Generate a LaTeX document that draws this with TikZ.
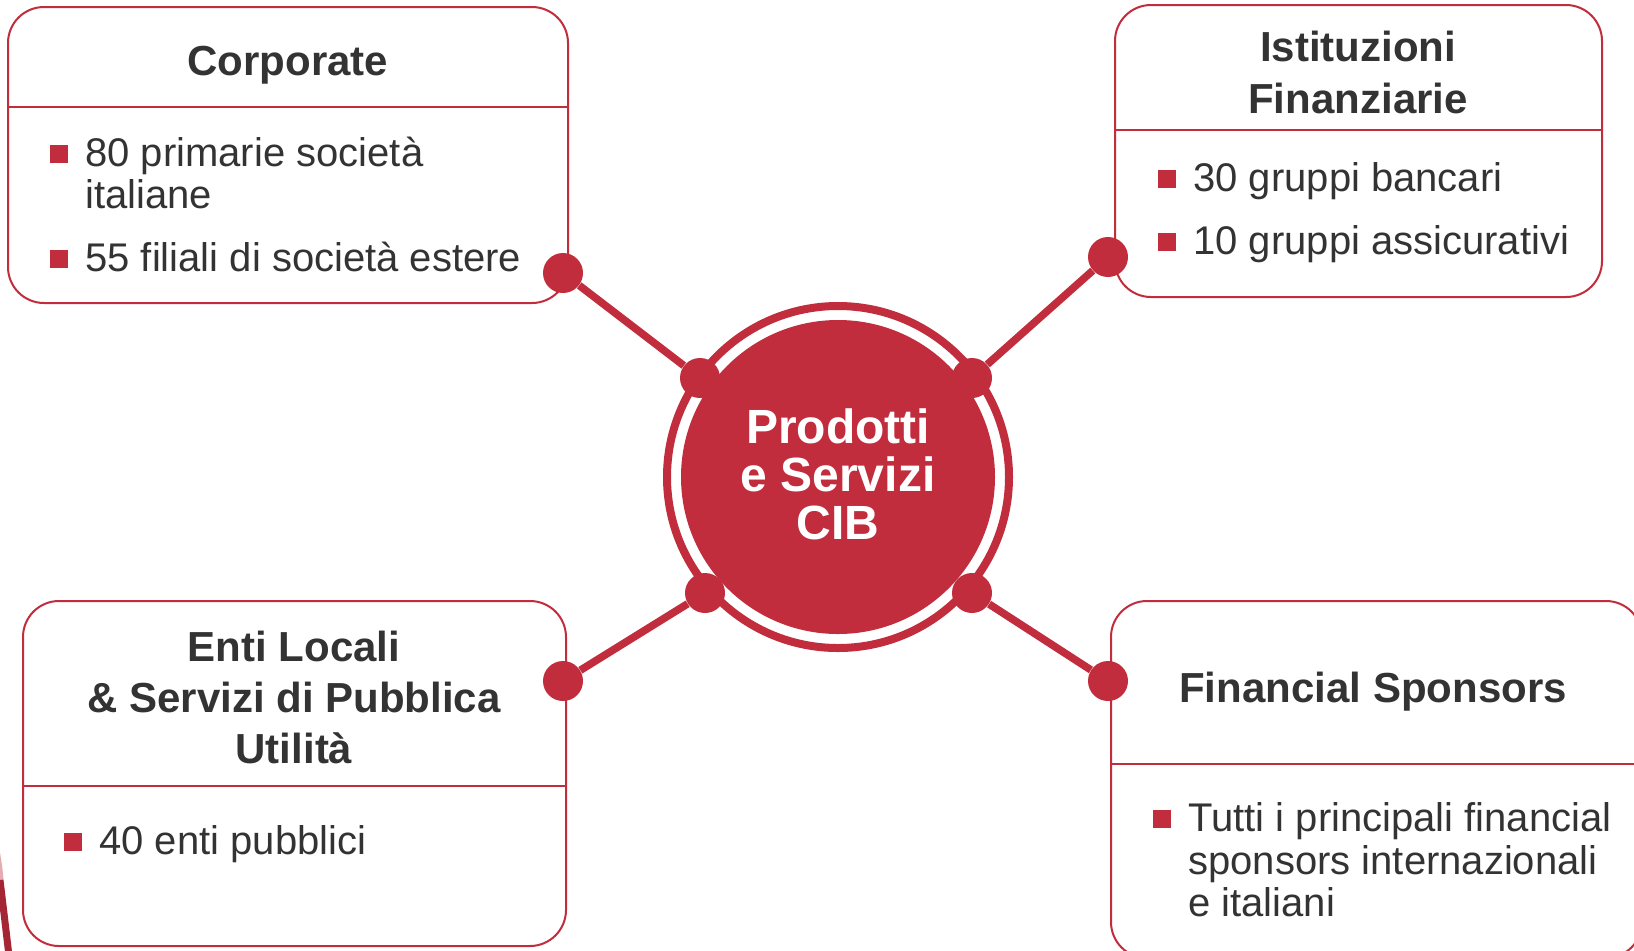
\documentclass[tikz,border=0pt]{standalone}
\usepackage{fontspec}
\setmainfont{Liberation Sans}
\definecolor{cibred}{HTML}{C12D3D}
\definecolor{ink}{HTML}{333333}

\begin{document}
\begin{tikzpicture}[x=0.5pt,y=-0.5pt,
  box/.style={draw=cibred, line width=1pt, rounded corners=18pt, fill=white, inner sep=0pt},
  divider/.style={draw=cibred, line width=1pt},
  title/.style={font=\fontsize{21}{25}\selectfont\bfseries, text=ink, anchor=base, inner sep=0pt},
  body/.style={font=\fontsize{20}{21}\selectfont, text=ink, anchor=base west, inner sep=0pt},
  bullet/.style={rectangle, fill=cibred, minimum size=9pt, inner sep=0pt},
  dot/.style={circle, fill=cibred, minimum size=20pt, inner sep=0pt},
  link/.style={draw=cibred, line width=3.8pt},
  hubtext/.style={font=\fontsize{24}{24}\selectfont\bfseries, text=white, anchor=base, inner sep=0pt}]
\useasboundingbox (0,0) rectangle (1634,950);
\clip (0,0) rectangle (1634,950);
\fill[white] (0,0) rectangle (1634,950);

% decorative swoosh in the lower left corner
\draw[cibred!40, line width=3.5pt] (-4,850) .. controls (-1,868) .. (0,880);
\draw[cibred!85!black, line width=3.5pt] (0,880) .. controls (3,905) and (6,930) .. (9,956);

% central hub
\node[circle, draw=cibred, line width=4pt, minimum size=171pt, inner sep=0pt] (ring) at (838,477) {};
\node[circle, fill=cibred, minimum size=157pt, inner sep=0pt] (hub) at (838,477) {};
\node[hubtext] (hubT1) at (838,443) {Prodotti};
\node[hubtext] (hubT2) at (838,491) {e Servizi};
\node[hubtext] (hubT3) at (838,539) {CIB};

% Corporate
\node[box, minimum width=280pt, minimum height=148pt] (corp) at (288,155) {};
\draw[divider] (corp.west |- 0,107) -- (corp.east |- 0,107);
\node[title] (corpT) at (288,75) {Corporate};
\node[bullet] (corpB1) at (59,154) {};
\node[body] (corpL1) at (85,166) {80 primarie società};
\node[body] (corpL2) at (85,208) {italiane};
\node[bullet] (corpB2) at (59,259) {};
\node[body] (corpL3) at (85,271) {55 filiali di società estere};

% Istituzioni Finanziarie
\node[box, minimum width=243.5pt, minimum height=146pt] (inst) at (1358.5,151) {};
\draw[divider] (inst.west |- 0,130) -- (inst.east |- 0,130);
\node[title] (instT1) at (1358,61) {Istituzioni};
\node[title] (instT2) at (1358,113) {Finanziarie};
\node[bullet] (instB1) at (1167,179) {};
\node[body] (instL1) at (1193,191) {30 gruppi bancari};
\node[bullet] (instB2) at (1167,242) {};
\node[body] (instL2) at (1193,254) {10 gruppi assicurativi};

% Enti Locali
\node[box, minimum width=271.5pt, minimum height=172.5pt] (enti) at (294.5,773.5) {};
\draw[divider] (enti.west |- 0,786) -- (enti.east |- 0,786);
\node[title] (entiT1) at (294,661) {Enti Locali};
\node[title] (entiT2) at (294,712) {\& Servizi di Pubblica};
\node[title] (entiT3) at (294,763) {Utilità};
\node[bullet] (entiB1) at (73,842) {};
\node[body] (entiL1) at (99,854) {40 enti pubblici};

% Financial Sponsors
\node[box, minimum width=265.5pt, minimum height=178.5pt] (fin) at (1376.5,779.5) {};
\draw[divider] (fin.west |- 0,764) -- (fin.east |- 0,764);
\node[title] (finT) at (1373,702) {Financial Sponsors};
\node[bullet] (finB1) at (1162,819) {};
\node[body] (finL1) at (1188,831) {Tutti i principali financial};
\node[body] (finL2) at (1188,874) {sponsors internazionali};
\node[body] (finL3) at (1188,916) {e italiani};

% connector dots
\node[dot] (a1) at (563,273) {};
\node[dot] (a2) at (700,378) {};
\node[dot] (b1) at (1108,257) {};
\node[dot] (b2) at (972,378) {};
\node[dot] (c1) at (563,681) {};
\node[dot] (c2) at (705,593) {};
\node[dot] (d1) at (1108,681) {};
\node[dot] (d2) at (972,593) {};

% connectors
\draw[link] (a1) -- (a2);
\draw[link] (b1) -- (b2);
\draw[link] (c1) -- (c2);
\draw[link] (d1) -- (d2);
\end{tikzpicture}
\end{document}
